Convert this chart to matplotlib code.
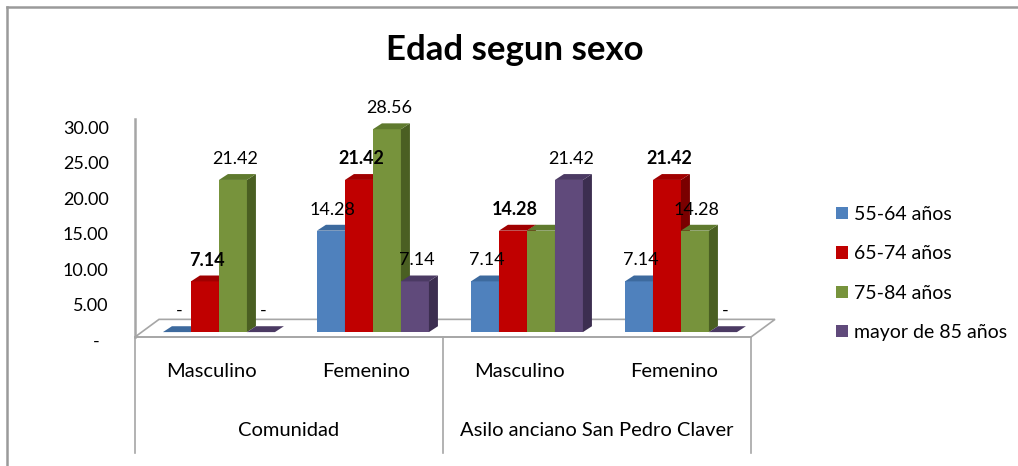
import matplotlib
matplotlib.use("Agg")
import matplotlib.pyplot as plt
import matplotlib.patches as patches
import matplotlib.transforms as mtransforms
from matplotlib.lines import Line2D
import numpy as np

plt.rcParams['font.family'] = ['Lato', 'DejaVu Sans']

# data
groups = ['Comunidad', 'Asilo anciano San Pedro Claver']
subcats = ['Masculino', 'Femenino', 'Masculino', 'Femenino']
series = ['55-64 años', '65-74 años', '75-84 años', 'mayor de 85 años']
v_55_64 = [0.0, 14.28, 7.14, 7.14]
v_65_74 = [7.14, 21.42, 14.28, 21.42]
v_75_84 = [21.42, 28.56, 14.28, 14.28]
v_85 = [0.0, 7.14, 21.42, 0.0]
values = [v_55_64, v_65_74, v_75_84, v_85]
hidden_labels = [(2, 2)]  # (series, category) label not shown in the source
yticks = [0, 5, 10, 15, 20, 25, 30]

front = ['#4F81BD', '#C00000', '#77933C', '#604A7B']
top_c = ['#3D6A9E', '#A00000', '#5F7A2E', '#4B3A63']
side_c = ['#2F5583', '#7A0000', '#4A5F22', '#3C2E50']
grey = '#A6A6A6'

W, H = 1018, 466
fig = plt.figure(figsize=(W / 100, H / 100), dpi=100)

# pixel scales of the plot area
SX = 154.0   # px per category
SY = 7.25    # px per unit
x0_px, x1_px, y_top_px, y_bot_px = 135, 751, 119, 337
base_px = 332
ax = fig.add_axes([x0_px / W, 1 - y_bot_px / H, (x1_px - x0_px) / W, (y_bot_px - y_top_px) / H])
ax.set_xlim(-0.545, 3.455)
ax.set_ylim(-(y_bot_px - base_px) / SY, (base_px - y_top_px) / SY)
ylo = ax.get_ylim()[0]

bw = 28 / SX
dx = 9 / SX
dy = 6 / SY
xc = np.arange(len(subcats))

# floor
fdx = 24 / SX
fdy = 18 / SY
floor = patches.Polygon([(-0.545, ylo), (3.455, ylo), (3.455 + fdx, ylo + fdy), (-0.545 + fdx, ylo + fdy)],
                        closed=True, facecolor='white', edgecolor=grey, lw=1.2, zorder=1, clip_on=False)
ax.add_patch(floor)

for c in range(len(subcats)):
    for s in range(len(series)):
        h = values[s][c]
        xl = xc[c] + (s - 2) * bw
        xr = xl + bw
        ax.bar(xl, h, width=bw, align='edge', color=front[s], zorder=2 + s, clip_on=False)
        side = patches.Polygon([(xr, 0), (xr, h), (xr + dx, h + dy), (xr + dx, dy)],
                               closed=True, facecolor=side_c[s], edgecolor='none', zorder=2 + s, clip_on=False)
        top = patches.Polygon([(xl, h), (xr, h), (xr + dx, h + dy), (xl + dx, h + dy)],
                              closed=True, facecolor=top_c[s], edgecolor='none', zorder=2 + s, clip_on=False)
        ax.add_patch(side)
        ax.add_patch(top)
        if (s, c) in hidden_labels:
            continue
        txt = '-' if h == 0 else '%.2f' % h
        ax.annotate(txt, (xl + bw / 2, h), xytext=(2, 21), textcoords='offset pixels',
                    ha='center', va='center', fontsize=13,
                    fontweight='bold' if s == 1 else 'normal', zorder=10, annotation_clip=False)

# axes styling
for sp in ['top', 'right']:
    ax.spines[sp].set_visible(False)
ax.spines['left'].set_color(grey)
ax.spines['left'].set_linewidth(1.8)
ax.spines['bottom'].set_color(grey)
ax.spines['bottom'].set_linewidth(1.2)
ax.set_xticks([])
ax.set_yticks(yticks)
ax.set_yticklabels(['-  ' if t == 0 else '%.2f' % t for t in yticks], fontsize=13)
ax.tick_params(axis='y', length=0, pad=19)
shift = mtransforms.ScaledTranslation(0, -8 / 100, fig.dpi_scale_trans)
for lab in ax.get_yticklabels():
    lab.set_transform(lab.get_transform() + shift)
ax.patch.set_visible(False)

# category axis below the floor
lab_off = -7 / SX
for xd in [-0.545, 1.5 + lab_off, 3.455]:
    ax.plot([xd, xd], [ylo, -(455 - base_px) / SY], color=grey, lw=1.2, clip_on=False, zorder=1)
for c, name in enumerate(subcats):
    ax.text(xc[c] + lab_off, -(372 - base_px) / SY, name, ha='center', va='center', fontsize=14.5)
for g, name in enumerate(groups):
    ax.text(0.5 + 2 * g + lab_off, -(432 - base_px) / SY, name, ha='center', va='center', fontsize=14.5)

# legend
handles = [patches.Patch(facecolor=front[s], edgecolor='none') for s in range(len(series))]
fig.legend(handles, series, loc='upper left', bbox_to_anchor=(836 / W, 1 - 206 / H),
           frameon=False, fontsize=14, borderpad=0, borderaxespad=0,
           handlelength=0.6, handleheight=0.6, handletextpad=0.35, labelspacing=1.15)

# title
fig.text(515 / W, 1 - 50 / H, 'Edad segun sexo', ha='center', va='center', fontsize=25, fontweight='bold')

# chart frame
fig.add_artist(Line2D([7 / W, 1], [1 - 7 / H, 1 - 7 / H], transform=fig.transFigure, color='#9A9A9A', lw=1.8))
fig.add_artist(Line2D([7 / W, 7 / W], [1 - 7 / H, 0], transform=fig.transFigure, color='#9A9A9A', lw=1.8))

fig.savefig('out.png', dpi=100)
